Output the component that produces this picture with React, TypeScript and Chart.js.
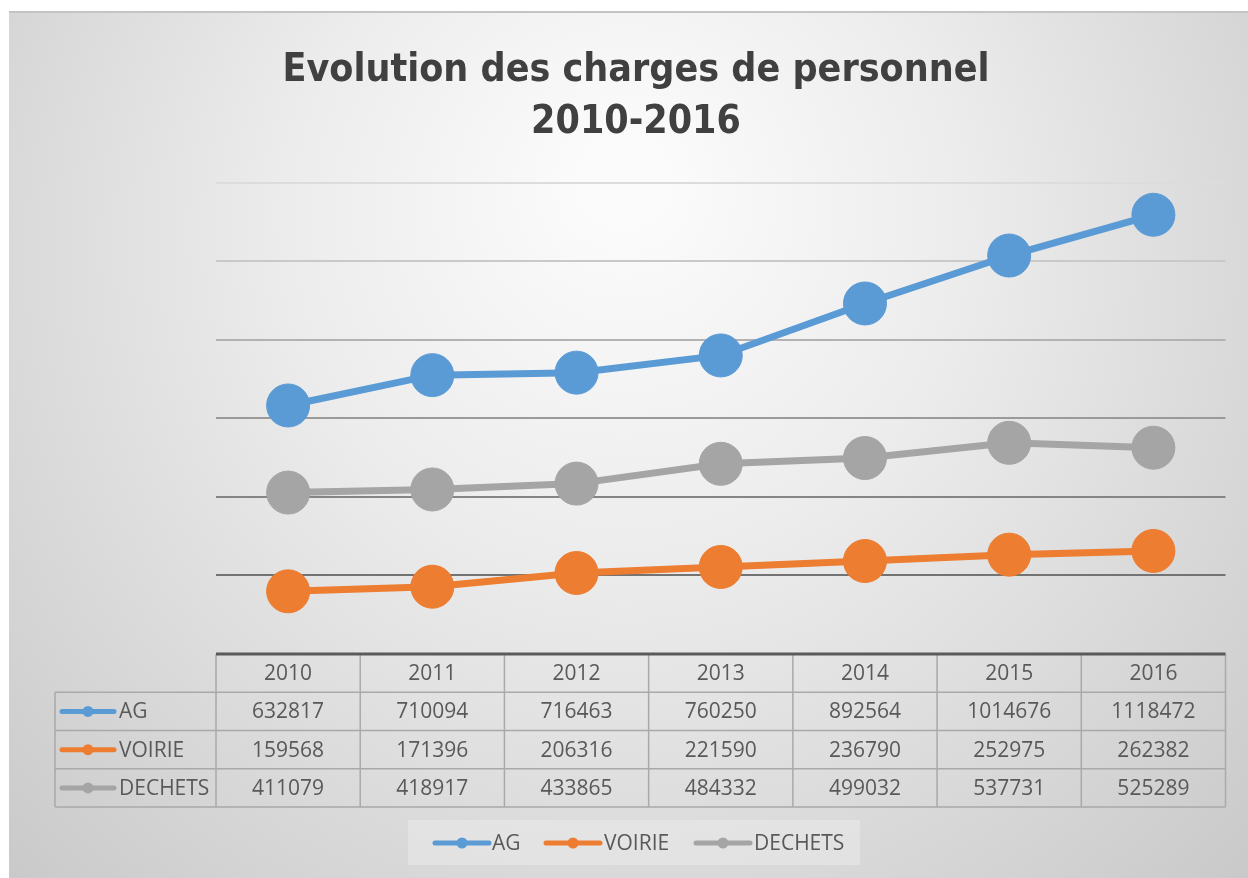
import React, { useEffect, useRef } from "react";
import { Chart, registerables } from "chart.js";

Chart.register(...registerables);

const years = ["2010", "2011", "2012", "2013", "2014", "2015", "2016"];
const agValues = [632817, 710094, 716463, 760250, 892564, 1014676, 1118472];
const voirieValues = [159568, 171396, 206316, 221590, 236790, 252975, 262382];
const dechetsValues = [411079, 418917, 433865, 484332, 499032, 537731, 525289];
const seriesNames = ["AG", "VOIRIE", "DECHETS"];
const seriesColors = ["#5b9bd5", "#ed7d31", "#a5a5a5"];
const titleLines = ["Evolution des charges de personnel", "2010-2016"];

const W = 1248;
const H = 878;
const TABLE_FONT = "'Open Sans', 'Noto Sans', sans-serif";
const TEXT_COLOR = "#595959";

function drawMarker(ctx: CanvasRenderingContext2D, x0: number, x1: number, y: number, color: string) {
  ctx.save();
  ctx.strokeStyle = color;
  ctx.lineWidth = 5;
  ctx.lineCap = "round";
  ctx.beginPath();
  ctx.moveTo(x0, y);
  ctx.lineTo(x1, y);
  ctx.stroke();
  ctx.fillStyle = color;
  ctx.beginPath();
  ctx.arc((x0 + x1) / 2, y, 5.5, 0, Math.PI * 2);
  ctx.fill();
  ctx.restore();
}

const backgroundPlugin = {
  id: "bgPlugin",
  beforeDraw(chart: any) {
    const ctx = chart.ctx as CanvasRenderingContext2D;
    ctx.save();
    ctx.fillStyle = "#ffffff";
    ctx.fillRect(0, 0, W, H);
    const g = ctx.createRadialGradient(624, 180, 40, 624, 300, 900);
    g.addColorStop(0, "#fbfbfb");
    g.addColorStop(0.35, "#ececec");
    g.addColorStop(1, "#c6c6c6");
    ctx.fillStyle = g;
    ctx.fillRect(9, 11, W - 9, H - 11);
    ctx.strokeStyle = "#c4c4c4";
    ctx.lineWidth = 2;
    ctx.beginPath();
    ctx.moveTo(9, 12);
    ctx.lineTo(W, 12);
    ctx.stroke();
    ctx.restore();
  },
};

const tablePlugin = {
  id: "tablePlugin",
  afterDraw(chart: any) {
    const ctx = chart.ctx as CanvasRenderingContext2D;
    const area = chart.chartArea;
    const xs = chart.scales.x;
    const n = years.length;
    const colW = (area.right - area.left) / n;
    const top = area.bottom;
    const rowH = 38.25;
    const legendLeft = 55;
    const rows = [agValues, voirieValues, dechetsValues];
    const bottom = top + rowH * (rows.length + 1);

    ctx.save();
    ctx.strokeStyle = "#a9a9a9";
    ctx.lineWidth = 1.5;
    for (let r = 1; r <= rows.length + 1; r++) {
      const y = top + r * rowH;
      ctx.beginPath();
      ctx.moveTo(legendLeft, y);
      ctx.lineTo(area.right, y);
      ctx.stroke();
    }
    for (let c = 0; c <= n; c++) {
      const x = area.left + c * colW;
      ctx.beginPath();
      ctx.moveTo(x, top);
      ctx.lineTo(x, bottom);
      ctx.stroke();
    }
    ctx.beginPath();
    ctx.moveTo(legendLeft, top + rowH);
    ctx.lineTo(legendLeft, bottom);
    ctx.stroke();

    ctx.strokeStyle = "#5a5a5a";
    ctx.lineWidth = 3;
    ctx.beginPath();
    ctx.moveTo(area.left, top);
    ctx.lineTo(area.right, top);
    ctx.stroke();

    ctx.fillStyle = TEXT_COLOR;
    ctx.font = `21px ${TABLE_FONT}`;
    ctx.textAlign = "center";
    ctx.textBaseline = "middle";
    years.forEach((yr, i) => {
      const cx = xs.getPixelForValue(i);
      ctx.fillText(yr, cx, top + rowH / 2 + 1);
      rows.forEach((vals, r) => {
        ctx.fillText(String(vals[i]), cx, top + rowH * (r + 1.5) + 1);
      });
    });
    rows.forEach((_, r) => {
      const y = top + rowH * (r + 1.5);
      drawMarker(ctx, 62, 114, y, seriesColors[r]);
      ctx.fillStyle = TEXT_COLOR;
      ctx.textAlign = "left";
      ctx.fillText(seriesNames[r], 119, y + 1);
    });

    ctx.fillStyle = "rgba(236,236,236,0.5)";
    ctx.fillRect(408, 820, 452, 45);
    const legendY = 843;
    const items = [
      { x0: 435, x1: 489, tx: 492 },
      { x0: 546, x1: 600, tx: 604 },
      { x0: 696, x1: 750, tx: 754 },
    ];
    items.forEach((it, i) => {
      drawMarker(ctx, it.x0, it.x1, legendY, seriesColors[i]);
      ctx.fillStyle = TEXT_COLOR;
      ctx.textAlign = "left";
      ctx.font = `21px ${TABLE_FONT}`;
      ctx.fillText(seriesNames[i], it.tx, legendY + 1);
    });
    ctx.restore();
  },
};

const gridColors: Record<number, string> = {
  0: "rgba(0,0,0,0)",
  200000: "#737373",
  400000: "#858585",
  600000: "#9a9a9a",
  800000: "#b2b2b2",
  1000000: "#c9c9c9",
  1200000: "#dcdcdc",
};

const PAD_LEFT = 43;
const PLOT_LEFT = 216;

export default function App() {
  const canvasRef = useRef<HTMLCanvasElement | null>(null);

  useEffect(() => {
    document.body.style.margin = "0";
    const canvas = canvasRef.current;
    if (!canvas) return;
    const mk = (label: string, data: number[], color: string) => ({
      label,
      data,
      borderColor: color,
      backgroundColor: color,
      pointBackgroundColor: color,
      pointBorderColor: color,
      borderWidth: 7,
      pointRadius: 21.5,
      pointBorderWidth: 1,
      pointHoverRadius: 21.5,
      tension: 0,
      fill: false,
    });
    const chart = new Chart(canvas, {
      type: "line",
      data: {
        labels: years,
        datasets: [
          mk(seriesNames[0], agValues, seriesColors[0]),
          mk(seriesNames[1], voirieValues, seriesColors[1]),
          mk(seriesNames[2], dechetsValues, seriesColors[2]),
        ],
      },
      options: {
        responsive: false,
        animation: false,
        layout: { padding: { left: PAD_LEFT, right: 19, top: 0, bottom: 224 } },
        plugins: {
          legend: { display: false },
          tooltip: { enabled: false },
          title: {
            display: true,
            text: titleLines,
            color: "#404040",
            font: {
              family: "'Liberation Sans Narrow', 'DejaVu Sans Condensed', 'Open Sans', sans-serif",
              size: 39,
              weight: "bold",
              lineHeight: 1.33,
            },
            padding: { top: 45, bottom: 34 },
          },
        },
        scales: {
          x: {
            type: "category",
            display: false,
            offset: true,
          },
          y: {
            min: 0,
            max: 1200000,
            ticks: { display: false, stepSize: 200000 },
            border: { display: false },
            grid: {
              drawTicks: false,
              lineWidth: 2,
              color: (c: any) => gridColors[c.tick?.value] ?? "#aaaaaa",
            },
            afterFit: (s: any) => {
              s.width = PLOT_LEFT - PAD_LEFT;
            },
          },
        },
      } as any,
      plugins: [backgroundPlugin, tablePlugin],
    });
    return () => chart.destroy();
  }, []);

  return (
    <canvas
      ref={canvasRef}
      width={W}
      height={H}
      style={{ display: "block", width: W, height: H }}
    />
  );
}
